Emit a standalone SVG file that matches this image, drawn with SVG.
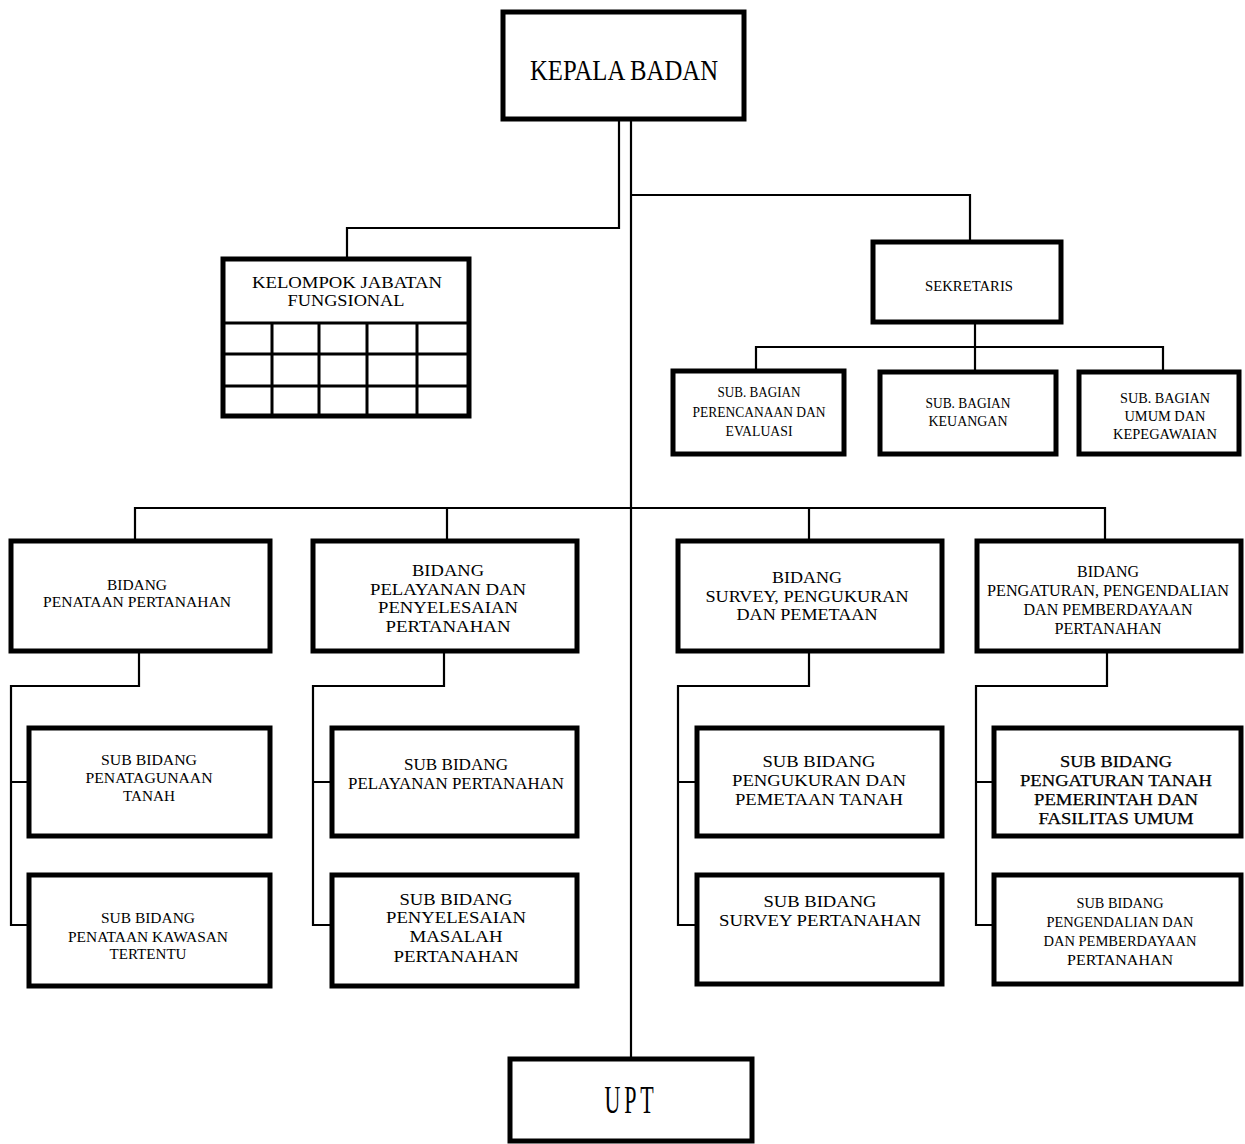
<svg xmlns="http://www.w3.org/2000/svg" width="1245" height="1144" viewBox="0 0 1245 1144">
<style>
.box{fill:#fff;stroke:#000;stroke-width:5}
.grid{stroke:#000;stroke-width:3;fill:none}
.con{fill:none;stroke:#000;stroke-width:2.2;stroke-linejoin:miter}
text{font-family:"Liberation Serif","Times New Roman",serif;fill:#000;text-anchor:middle}
.s14{font-size:14.5px}
.s15{font-size:15px}
.s16{font-size:16px}
.s17{font-size:17px}
.bold{stroke:#000;stroke-width:0.25}
</style>
<rect width="1245" height="1144" fill="#fff"/>
<g id="connectors">
<path class="con" d="M619,120 V228 H347 V258"/>
<path class="con" d="M631,120 V1058"/>
<path class="con" d="M631,195 H970 V241"/>
<path class="con" d="M975,323 V371"/>
<path class="con" d="M756,370 V347 H1163 V371"/>
<path class="con" d="M135,540 V508 H1105 V540"/>
<path class="con" d="M447,508 V540"/>
<path class="con" d="M809,508 V540"/>
<path class="con" d="M139,652 V686 H11 V925 H28 M11,782 H28"/>
<path class="con" d="M444,652 V686 H313 V925 H331 M313,782 H331"/>
<path class="con" d="M809,652 V686 H678 V925 H696 M678,782 H696"/>
<path class="con" d="M1107,652 V686 H976 V925 H993 M976,782 H993"/>
</g>
<g id="kepala-badan">
<rect class="box" x="503" y="12" width="241" height="107"/>
<text x="624" y="80" style="font-size:30px" textLength="188" lengthAdjust="spacingAndGlyphs">KEPALA BADAN</text>
</g>
<g id="kelompok-jabatan-fungsional">
<rect class="box" x="223" y="259" width="246" height="157"/>
<path class="grid" d="M223,323 H469 M223,354 H469 M223,386 H469 M272,323 V416 M319,323 V416 M367,323 V416 M417,323 V416"/>
<text class="s16" x="347" y="288" textLength="190" lengthAdjust="spacingAndGlyphs">KELOMPOK JABATAN</text>
<text class="s16" x="346" y="306" textLength="117" lengthAdjust="spacingAndGlyphs">FUNGSIONAL</text>
</g>
<g id="sekretaris">
<rect class="box" x="873" y="242" width="188" height="80"/>
<text class="s15" x="969" y="291" textLength="88" lengthAdjust="spacingAndGlyphs">SEKRETARIS</text>
</g>
<g id="sub-bagian-perencanaan">
<rect class="box" x="673" y="371" width="171" height="83"/>
<text class="s14" x="759" y="397" textLength="83" lengthAdjust="spacingAndGlyphs">SUB. BAGIAN</text>
<text class="s14" x="759" y="417" textLength="133" lengthAdjust="spacingAndGlyphs">PERENCANAAN DAN</text>
<text class="s14" x="759" y="436" textLength="67" lengthAdjust="spacingAndGlyphs">EVALUASI</text>
</g>
<g id="sub-bagian-keuangan">
<rect class="box" x="880" y="372" width="176" height="82"/>
<text class="s14" x="968" y="408" textLength="85" lengthAdjust="spacingAndGlyphs">SUB. BAGIAN</text>
<text class="s14" x="968" y="426" textLength="79" lengthAdjust="spacingAndGlyphs">KEUANGAN</text>
</g>
<g id="sub-bagian-umum">
<rect class="box" x="1079" y="372" width="160" height="82"/>
<text class="s14" x="1165" y="403" textLength="90" lengthAdjust="spacingAndGlyphs">SUB. BAGIAN</text>
<text class="s14" x="1165" y="421" textLength="81" lengthAdjust="spacingAndGlyphs">UMUM DAN</text>
<text class="s14" x="1165" y="439" textLength="104" lengthAdjust="spacingAndGlyphs">KEPEGAWAIAN</text>
</g>
<g id="bidang-penataan">
<rect class="box" x="11" y="541" width="259" height="110"/>
<text class="s15" x="137" y="590" textLength="60" lengthAdjust="spacingAndGlyphs">BIDANG</text>
<text class="s15" x="137" y="607" textLength="188" lengthAdjust="spacingAndGlyphs">PENATAAN PERTANAHAN</text>
</g>
<g id="bidang-pelayanan">
<rect class="box" x="313" y="541" width="264" height="110"/>
<text class="s17" x="448" y="576" textLength="72" lengthAdjust="spacingAndGlyphs">BIDANG</text>
<text class="s17" x="448" y="595" textLength="156" lengthAdjust="spacingAndGlyphs">PELAYANAN DAN</text>
<text class="s17" x="448" y="613" textLength="140" lengthAdjust="spacingAndGlyphs">PENYELESAIAN</text>
<text class="s17" x="448" y="632" textLength="125" lengthAdjust="spacingAndGlyphs">PERTANAHAN</text>
</g>
<g id="bidang-survey">
<rect class="box" x="678" y="541" width="264" height="110"/>
<text class="s17" x="807" y="583" textLength="70" lengthAdjust="spacingAndGlyphs">BIDANG</text>
<text class="s17" x="807" y="602" textLength="203" lengthAdjust="spacingAndGlyphs">SURVEY, PENGUKURAN</text>
<text class="s17" x="807" y="620" textLength="141" lengthAdjust="spacingAndGlyphs">DAN PEMETAAN</text>
</g>
<g id="bidang-pengaturan">
<rect class="box" x="977" y="541" width="264" height="110"/>
<text class="s16" x="1108" y="577" textLength="62" lengthAdjust="spacingAndGlyphs">BIDANG</text>
<text class="s16" x="1108" y="596" textLength="242" lengthAdjust="spacingAndGlyphs">PENGATURAN, PENGENDALIAN</text>
<text class="s16" x="1108" y="615" textLength="169" lengthAdjust="spacingAndGlyphs">DAN PEMBERDAYAAN</text>
<text class="s16" x="1108" y="634" textLength="107" lengthAdjust="spacingAndGlyphs">PERTANAHAN</text>
</g>
<g id="sub-bidang-penatagunaan">
<rect class="box" x="29" y="728" width="241" height="108"/>
<text class="s15" x="149" y="765" textLength="96" lengthAdjust="spacingAndGlyphs">SUB BIDANG</text>
<text class="s15" x="149" y="783" textLength="127" lengthAdjust="spacingAndGlyphs">PENATAGUNAAN</text>
<text class="s15" x="149" y="801" textLength="52" lengthAdjust="spacingAndGlyphs">TANAH</text>
</g>
<g id="sub-bidang-kawasan">
<rect class="box" x="29" y="875" width="241" height="111"/>
<text class="s15" x="148" y="923" textLength="94" lengthAdjust="spacingAndGlyphs">SUB BIDANG</text>
<text class="s15" x="148" y="942" textLength="160" lengthAdjust="spacingAndGlyphs">PENATAAN KAWASAN</text>
<text class="s15" x="148" y="959" textLength="77" lengthAdjust="spacingAndGlyphs">TERTENTU</text>
</g>
<g id="sub-bidang-pelayanan">
<rect class="box" x="332" y="728" width="245" height="108"/>
<text class="s17" x="456" y="770" textLength="104" lengthAdjust="spacingAndGlyphs">SUB BIDANG</text>
<text class="s17" x="456" y="789" textLength="216" lengthAdjust="spacingAndGlyphs">PELAYANAN PERTANAHAN</text>
</g>
<g id="sub-bidang-penyelesaian">
<rect class="box" x="332" y="875" width="245" height="111"/>
<text class="s17" x="456" y="905" textLength="113" lengthAdjust="spacingAndGlyphs">SUB BIDANG</text>
<text class="s17" x="456" y="923" textLength="140" lengthAdjust="spacingAndGlyphs">PENYELESAIAN</text>
<text class="s17" x="456" y="942" textLength="93" lengthAdjust="spacingAndGlyphs">MASALAH</text>
<text class="s17" x="456" y="962" textLength="125" lengthAdjust="spacingAndGlyphs">PERTANAHAN</text>
</g>
<g id="sub-bidang-pengukuran">
<rect class="box" x="697" y="728" width="245" height="108"/>
<text class="s17" x="819" y="767" textLength="113" lengthAdjust="spacingAndGlyphs">SUB BIDANG</text>
<text class="s17" x="819" y="786" textLength="174" lengthAdjust="spacingAndGlyphs">PENGUKURAN DAN</text>
<text class="s17" x="819" y="805" textLength="168" lengthAdjust="spacingAndGlyphs">PEMETAAN TANAH</text>
</g>
<g id="sub-bidang-survey">
<rect class="box" x="697" y="875" width="245" height="109"/>
<text class="s17" x="820" y="907" textLength="113" lengthAdjust="spacingAndGlyphs">SUB BIDANG</text>
<text class="s17" x="820" y="926" textLength="202" lengthAdjust="spacingAndGlyphs">SURVEY PERTANAHAN</text>
</g>
<g id="sub-bidang-pengaturan-tanah">
<rect class="box" x="994" y="728" width="247" height="108"/>
<text class="s17 bold" x="1116" y="767" textLength="112" lengthAdjust="spacingAndGlyphs">SUB BIDANG</text>
<text class="s17 bold" x="1116" y="786" textLength="192" lengthAdjust="spacingAndGlyphs">PENGATURAN TANAH</text>
<text class="s17 bold" x="1116" y="805" textLength="164" lengthAdjust="spacingAndGlyphs">PEMERINTAH DAN</text>
<text class="s17 bold" x="1116" y="824" textLength="155" lengthAdjust="spacingAndGlyphs">FASILITAS UMUM</text>
</g>
<g id="sub-bidang-pengendalian">
<rect class="box" x="994" y="875" width="247" height="109"/>
<text class="s14" x="1120" y="908" textLength="87" lengthAdjust="spacingAndGlyphs">SUB BIDANG</text>
<text class="s14" x="1120" y="927" textLength="147" lengthAdjust="spacingAndGlyphs">PENGENDALIAN DAN</text>
<text class="s14" x="1120" y="946" textLength="153" lengthAdjust="spacingAndGlyphs">DAN PEMBERDAYAAN</text>
<text class="s14" x="1120" y="965" textLength="106" lengthAdjust="spacingAndGlyphs">PERTANAHAN</text>
</g>
<g id="upt">
<rect class="box" x="510" y="1059" width="242" height="82"/>
<text transform="translate(631,1113) scale(0.55,1)" x="0" y="0" style="font-size:40px;letter-spacing:7px">UPT</text>
</g>
</svg>
